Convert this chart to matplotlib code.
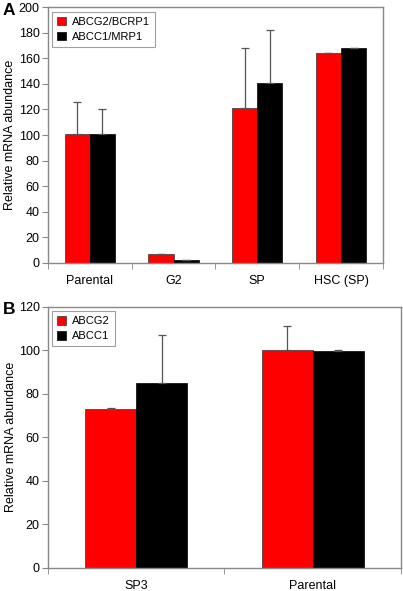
import numpy as np
import matplotlib
matplotlib.use('Agg')
import matplotlib.pyplot as plt

plt.rcParams['font.family'] = ['Liberation Sans', 'DejaVu Sans']

# Панель A
cats_a = ['Parental', 'G2', 'SP', 'HSC (SP)']
abcg2_a = [101, 7, 121, 164]
abcg2_a_err = [25, 0, 47, 0]
abcc1_a = [101, 2, 141, 168]
abcc1_a_err = [19, 0, 41, 0]

# Панель B
cats_b = ['SP3', 'Parental']
abcg2_b = [73.2, 100]
abcg2_b_err = [0.3, 11.3]
abcc1_b = [84.8, 99.8]
abcc1_b_err = [22, 0.5]

spine_col = '#888888'


def draw_panel(ax, cats, red, red_err, black, black_err, labels, ymax, ystep, width, label_x):
    x = np.arange(len(cats))
    zeros = [0] * len(cats)
    ekw = dict(ecolor='#555555', elinewidth=0.9, capsize=3, capthick=0.9)
    ax.bar(x - width / 2, red, width, color='#ff0000', edgecolor='#333333',
           linewidth=0.5, label=labels[0], yerr=[zeros, red_err], error_kw=ekw)
    ax.bar(x + width / 2, black, width, color='#000000', edgecolor='#000000',
           linewidth=0.5, label=labels[1], yerr=[zeros, black_err], error_kw=ekw)
    ax.set_xlim(-0.5, len(cats) - 0.5)
    ax.set_ylim(0, ymax)
    ax.set_yticks(np.arange(0, ymax + 1, ystep))
    # подписи категорий без засечек, засечки на границах категорий
    ax.set_xticks(x)
    ax.set_xticklabels(cats, fontsize=9)
    ax.tick_params(axis='x', length=0, pad=9)
    ax.set_xticks(np.arange(-0.5, len(cats)), minor=True)
    ax.tick_params(axis='x', which='minor', length=4, color=spine_col, direction='out')
    ax.tick_params(axis='y', labelsize=9, length=4, color=spine_col, pad=2)
    for s in ax.spines.values():
        s.set_color(spine_col)
        s.set_linewidth(1.0)
    ax.set_ylabel('Relative mRNA abundance', fontsize=9)
    ax.yaxis.set_label_coords(label_x, 0.5)
    leg = ax.legend(loc='upper left', fontsize=8, frameon=True, fancybox=False,
                    edgecolor=spine_col, handlelength=0.8, handleheight=0.8,
                    borderpad=0.45, labelspacing=0.45, handletextpad=0.5,
                    borderaxespad=0.4)
    leg.get_frame().set_linewidth(0.8)


fig = plt.figure(figsize=(4.03, 5.91), dpi=100)
ax_a = fig.add_axes([0.119, 0.555, 0.831, 0.433])
ax_b = fig.add_axes([0.119, 0.039, 0.876, 0.442])

draw_panel(ax_a, cats_a, abcg2_a, abcg2_a_err, abcc1_a, abcc1_a_err,
           ['ABCG2/BCRP1', 'ABCC1/MRP1'], 200, 20, 0.3, -0.094)
draw_panel(ax_b, cats_b, abcg2_b, abcg2_b_err, abcc1_b, abcc1_b_err,
           ['ABCG2', 'ABCC1'], 120, 20, 0.29, -0.089)

fig.text(0.007, 0.975, 'A', fontsize=12.5, fontweight='bold')
fig.text(0.007, 0.469, 'B', fontsize=12.5, fontweight='bold')

fig.savefig('out.png', dpi=100)
